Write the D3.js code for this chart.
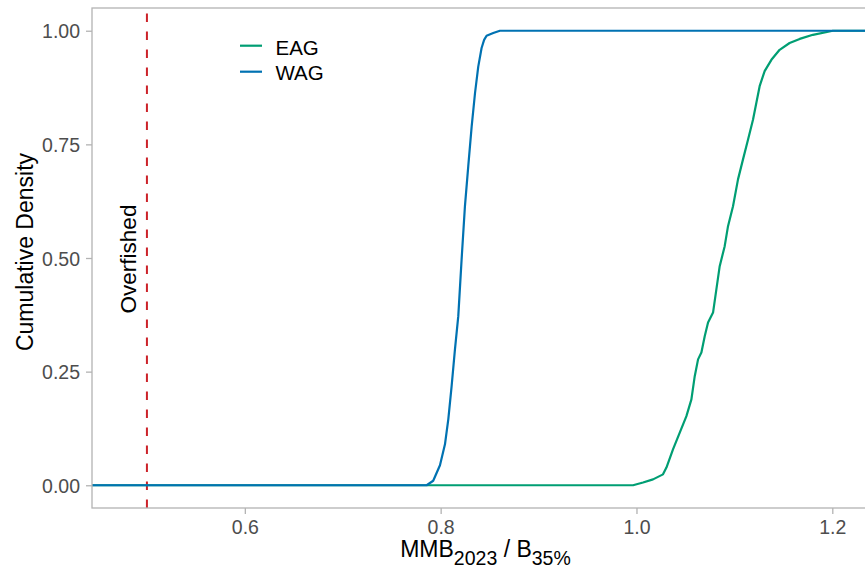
<!DOCTYPE html>
<html><head><meta charset="utf-8">
<script src="https://cdn.jsdelivr.net/npm/d3@7"></script>
<style>body{margin:0;background:#fff}svg{display:block;font-family:"Liberation Sans",Arial,sans-serif}</style>
</head><body><svg id="c" width="865" height="571"></svg>
<script>
const series = ["EAG", "WAG"];
const colors = ["#009E73", "#0072B2"];
const eagX = [0.40, 0.9965, 1.0067, 1.0169, 1.0271, 1.0306, 1.0373, 1.0442, 1.0510, 1.0561, 1.0595, 1.0629, 1.0663, 1.0697, 1.0731, 1.0782, 1.0816, 1.0850, 1.0901, 1.0935, 1.0986, 1.1037, 1.1088, 1.1139, 1.1190, 1.1224, 1.1258, 1.1309, 1.1378, 1.1462, 1.1564, 1.1667, 1.1802, 1.2006, 1.30];
const eagY = [0, 0, 0.006, 0.013, 0.024, 0.039, 0.079, 0.116, 0.152, 0.189, 0.240, 0.277, 0.292, 0.328, 0.358, 0.380, 0.431, 0.482, 0.526, 0.570, 0.614, 0.673, 0.717, 0.760, 0.804, 0.841, 0.878, 0.911, 0.936, 0.958, 0.973, 0.982, 0.991, 1.0, 1.0];
const wagX = [0.40, 0.7857, 0.7924, 0.7993, 0.8044, 0.8078, 0.8112, 0.8146, 0.8180, 0.8214, 0.8248, 0.8282, 0.8317, 0.8351, 0.8384, 0.8418, 0.8444, 0.8469, 0.8537, 0.8605, 1.30];
const wagY = [0, 0, 0.010, 0.044, 0.090, 0.145, 0.218, 0.299, 0.372, 0.497, 0.614, 0.702, 0.790, 0.863, 0.921, 0.962, 0.980, 0.989, 0.995, 1.0, 1.0];
const xTicks = [0.6, 0.8, 1.0, 1.2];
const yTicks = [0, 0.25, 0.5, 0.75, 1.0];
const overfished = 0.5;

const svg = d3.select("#c");
const L = 92, R = 879, T = 8, B = 508;
const x = d3.scaleLinear().domain([0.4439, 1.2477]).range([L, R]);
const y = d3.scaleLinear().domain([-0.05, 1.05]).range([B, T]);
const grey = "#b3b3b3";

svg.append("defs").append("clipPath").attr("id", "clip")
  .append("rect").attr("x", L).attr("y", T).attr("width", R - L).attr("height", B - T);

const plot = svg.append("g").attr("clip-path", "url(#clip)");

plot.append("line").attr("x1", x(overfished)).attr("x2", x(overfished))
  .attr("y1", B).attr("y2", T).attr("stroke", "#CC2229").attr("stroke-width", 2)
  .attr("stroke-dasharray", "8.5,9.5");

const line = d3.line().x(d => x(d[0])).y(d => y(d[1]));
const data = [eagX.map((v, i) => [v, eagY[i]]), wagX.map((v, i) => [v, wagY[i]])];
data.forEach((d, i) => {
  plot.append("path").datum(d).attr("d", line).attr("fill", "none")
    .attr("stroke", colors[i]).attr("stroke-width", 2.2).attr("stroke-linejoin", "round");
});

// border
svg.append("rect").attr("x", L).attr("y", T).attr("width", R - L).attr("height", B - T)
  .attr("fill", "none").attr("stroke", grey).attr("stroke-width", 1.3);

// axes
const xa = svg.append("g").attr("transform", `translate(0,${B})`)
  .call(d3.axisBottom(x).tickValues(xTicks).tickFormat(d3.format(".1f")).tickSize(6).tickPadding(6));
const ya = svg.append("g").attr("transform", `translate(${L},0)`)
  .call(d3.axisLeft(y).tickValues(yTicks).tickFormat(d3.format(".2f")).tickSize(6).tickPadding(6));
[xa, ya].forEach(a => {
  a.select(".domain").remove();
  a.selectAll(".tick line").attr("stroke", grey).attr("stroke-width", 1.3);
  a.selectAll(".tick text").attr("fill", "#4d4d4d").style("font-size", "19.5px")
    .style("font-family", "'Liberation Sans', Arial, sans-serif");
});
xa.selectAll(".tick text").attr("y", 26).attr("dy", 0);
ya.selectAll(".tick text").attr("dy", "0.36em");

// axis titles
const xt = svg.append("text").attr("x", 485.5).attr("y", 557).attr("text-anchor", "middle")
  .style("font-size", "23px").attr("fill", "#000");
xt.append("tspan").text("MMB");
xt.append("tspan").text("2023").attr("dy", 7.5).style("font-size", "19.5px");
xt.append("tspan").text(" / B").attr("dy", -7.5);
xt.append("tspan").text("35%").attr("dy", 7.5).style("font-size", "19.5px");

svg.append("text").attr("transform", "translate(33,252) rotate(-90)").attr("text-anchor", "middle")
  .style("font-size", "23px").attr("fill", "#000").text("Cumulative Density");

svg.append("text").attr("transform", `translate(${x(overfished) - 11},259) rotate(-90)`).attr("text-anchor", "middle")
  .style("font-size", "22.5px").attr("fill", "#000").text("Overfished");

// legend
const leg = svg.append("g");
series.forEach((s, i) => {
  const yy = 45.7 + i * 26;
  leg.append("line").attr("x1", 240).attr("x2", 262).attr("y1", yy).attr("y2", yy)
    .attr("stroke", colors[i]).attr("stroke-width", 2.2);
  leg.append("text").attr("x", 275.5).attr("y", 55 + i * 25).style("font-size", "20.5px")
    .attr("fill", "#000").text(s);
});
</script></body></html>
